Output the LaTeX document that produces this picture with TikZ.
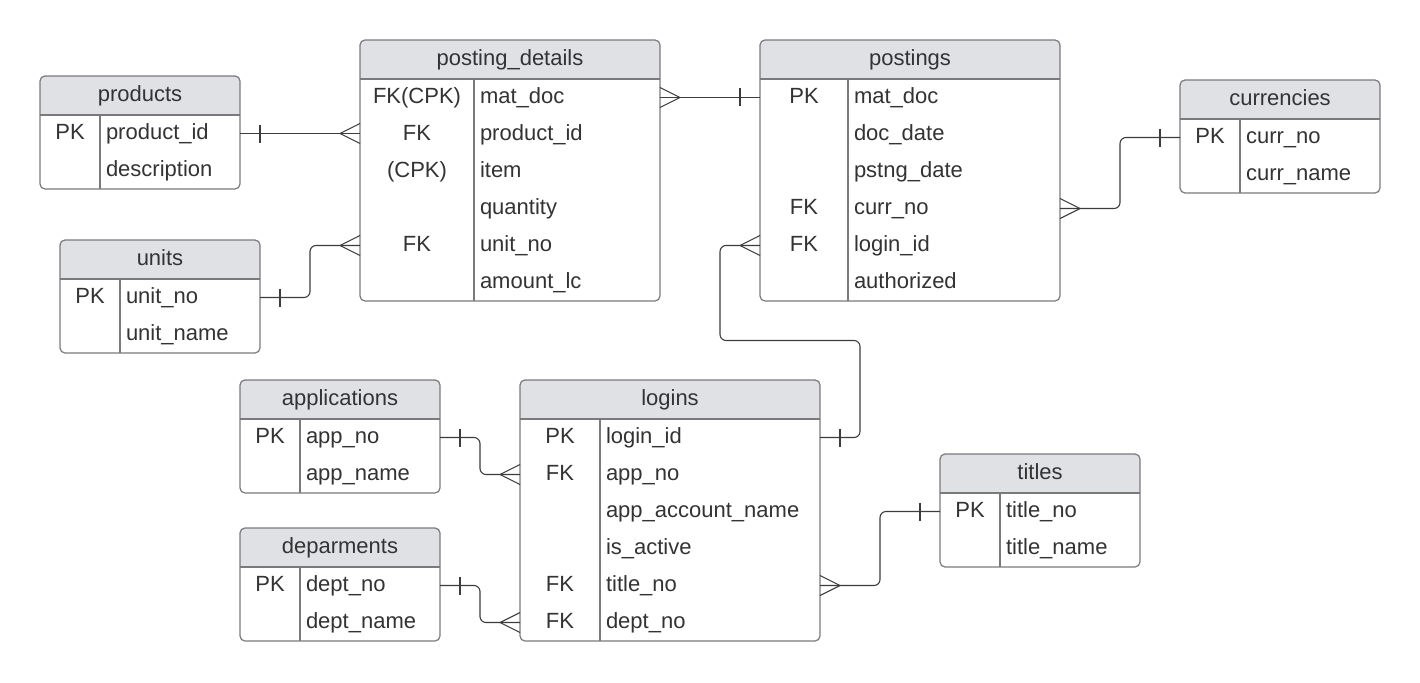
\documentclass[tikz,border=0pt]{standalone}
\usepackage{fontspec}
\setmainfont{Liberation Sans}
\usetikzlibrary{calc}

\definecolor{headfillc}{HTML}{DFE1E5}
\definecolor{tablelinec}{HTML}{7A7A7A}
\definecolor{connc}{HTML}{3C3C3C}
\definecolor{textc}{HTML}{333333}

\tikzset{
  tablebox/.style={inner sep=0pt, outer sep=0pt},
  rowbox/.style={inner sep=0pt, outer sep=0pt, minimum height=37pt},
  tableline/.style={draw=tablelinec, line width=1.2pt},
  ertext/.style={inner sep=0pt, outer sep=0pt, text=textc, font=\fontsize{22pt}{26pt}\selectfont},
  conn/.style={draw=connc, line width=1.1pt},
  hv/.style={rounded corners=6pt,
    to path={-| ($(\tikztostart)!0.5!(\tikztotarget)$) |- (\tikztotarget)}},
}

% entity table: id, left, top, width, key column width, title, key/field rows
\newcommand\ertable[7]{%
  \foreach \k/\f [count=\i] in {#7} {\xdef\ernrows{\i}}%
  \pgfmathsetmacro\erh{39+37*\ernrows}%
  \node[tablebox, minimum width=#4pt, minimum height=\erh pt, anchor=north west] (#1) at (#2,#3) {};
  \begin{scope}
    \clip[rounded corners=5pt] (#1.north west) rectangle (#1.south east);
    \fill[headfillc] (#1.north west) rectangle ($(#1.north east)+(0,39)$);
  \end{scope}
  \draw[tableline, rounded corners=5pt] (#1.north west) rectangle (#1.south east);
  \draw[tableline] ($(#1.north west)+(0,39)$) -- ($(#1.north east)+(0,39)$);
  \draw[tableline] ($(#1.north west)+(#5,39)$) -- ($(#1.south west)+(#5,0)$);
  \node[ertext, anchor=base] (#1-title) at ($(#1.north)+(0,25.5)$) {#6};
  \foreach \k/\f [count=\i] in {#7} {
    \node[rowbox, minimum width=#4pt, anchor=north west] (#1-r\i) at ($(#1.north west)+(0,2+37*\i)$) {};
    \node[ertext, anchor=base] (#1-k\i) at ($(#1-r\i.west)+(#5/2,6)$) {\k};
    \node[ertext, anchor=base west] (#1-f\i) at ($(#1-r\i.west)+(#5+6,6)$) {\f};
  }
}

% relationship ends: crow's foot (many) and bar (one)
\newcommand\crowW[1]{\draw[conn] ($(#1)+(0,-10)$) -- ($(#1)+(-20,0)$) -- ($(#1)+(0,10)$);}
\newcommand\crowE[1]{\draw[conn] ($(#1)+(0,-10)$) -- ($(#1)+(20,0)$) -- ($(#1)+(0,10)$);}
\newcommand\barW[1]{\draw[conn] ($(#1)+(-20,-9)$) -- ($(#1)+(-20,9)$);}
\newcommand\barE[1]{\draw[conn] ($(#1)+(20,-9)$) -- ($(#1)+(20,9)$);}

\begin{document}
\begin{tikzpicture}[x=1pt, y=-1pt]
\fill[white] (0,0) rectangle (1420,682);
\useasboundingbox (0,0) rectangle (1420,682);

\ertable{prod}{40}{76}{200}{60}{products}{PK/product\_id, /description}
\ertable{pd}{360}{40}{300}{114}{posting\_details}{FK(CPK)/mat\_doc, FK/product\_id, (CPK)/item, /quantity, FK/unit\_no, /amount\_lc}
\ertable{pst}{760}{40}{300}{88}{postings}{PK/mat\_doc, /doc\_date, /pstng\_date, FK/curr\_no, FK/login\_id, /authorized}
\ertable{cur}{1180}{80}{200}{60}{currencies}{PK/curr\_no, /curr\_name}
\ertable{units}{60}{240}{200}{60}{units}{PK/unit\_no, /unit\_name}
\ertable{app}{240}{380}{200}{60}{applications}{PK/app\_no, /app\_name}
\ertable{log}{520}{380}{300}{80}{logins}{PK/login\_id, FK/app\_no, /app\_account\_name, /is\_active, FK/title\_no, FK/dept\_no}
\ertable{tit}{940}{454}{200}{60}{titles}{PK/title\_no, /title\_name}
\ertable{dep}{240}{528}{200}{60}{deparments}{PK/dept\_no, /dept\_name}

% products -- posting_details
\draw[conn] (prod-r1.east) -- (prod-r1.east -| pd-r2.west);
\barE{prod-r1.east}
\crowW{prod-r1.east -| pd-r2.west}

% units -- posting_details
\draw[conn] (units-r1.east) to[hv] (pd-r5.west);
\barE{units-r1.east}
\crowW{pd-r5.west}

% posting_details -- postings
\draw[conn] (pd-r1.east) -- (pst-r1.west);
\crowE{pd-r1.east}
\barW{pst-r1.west}

% postings -- currencies
\draw[conn] (pst-r4.east) to[hv] (cur-r1.west);
\crowE{pst-r4.east}
\barW{cur-r1.west}

% logins -- postings
\coordinate (loopR) at ($(log-r1.east)+(40,0)$);
\coordinate (loopL) at ($(pst-r5.west)+(-40,0)$);
\coordinate (loopY) at ($(pst.south)!0.5!(log.north)$);
\draw[conn, rounded corners=6pt] (log-r1.east) -- (loopR) |- (loopY) -| (loopL) -- (pst-r5.west);
\barE{log-r1.east}
\crowW{pst-r5.west}

% applications -- logins
\draw[conn] (app-r1.east) to[hv] (log-r2.west);
\barE{app-r1.east}
\crowW{log-r2.west}

% deparments -- logins
\draw[conn] (dep-r1.east) to[hv] (log-r6.west);
\barE{dep-r1.east}
\crowW{log-r6.west}

% logins -- titles
\draw[conn] (log-r5.east) to[hv] (tit-r1.west);
\crowE{log-r5.east}
\barW{tit-r1.west}
\end{tikzpicture}
\end{document}
